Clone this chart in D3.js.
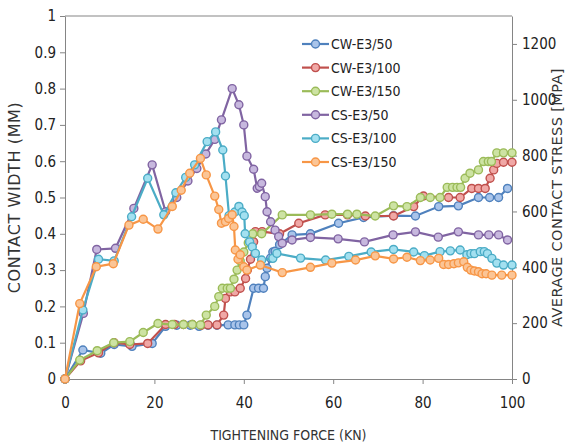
<!DOCTYPE html>
<meta charset="utf-8">
<script src="https://d3js.org/d3.v7.min.js"></script>
<style>
  body { margin: 0; background: #fff; }
</style>
<div id="chart"></div>
<script>

// axis ticks
var forceTicks = [0, 20, 40, 60, 80, 100];
var widthTicks = [0, 0.1, 0.2, 0.3, 0.4, 0.5, 0.6, 0.7, 0.8, 0.9, 1];
var stressTicks = [0, 200, 400, 600, 800, 1000, 1200];

var seriesNames = ["CW-E3/50", "CW-E3/100", "CW-E3/150", "CS-E3/50", "CS-E3/100", "CS-E3/150"];
var seriesColors = ["#4f81bd", "#c0504d", "#9bbb59", "#8064a2", "#4bacc6", "#f79646"];
var markerFills = ["#a9c4ea", "#f0a8a6", "#cde3a3", "#c7b8de", "#a3e0f0", "#fbc596"];

// contact width [force kN, width mm]
var cw50 = [[0,0],[4,0.08],[8,0.071],[11,0.095],[15,0.09],[19.5,0.098],[22.5,0.145],[25,0.148],[28,0.148],
  [30,0.145],[32,0.148],[34,0.148],[36.5,0.149],[38,0.149],[39,0.149],[40,0.149],[40.7,0.176],[42.2,0.25],
  [43.3,0.25],[44.4,0.25],[44.8,0.282],[45.2,0.305],[46,0.333],[46.5,0.35],[47,0.352],[48,0.37],[50.8,0.397],
  [54.9,0.4],[61.2,0.429],[66.8,0.445],[73.5,0.45],[78.4,0.449],[83.6,0.475],[88,0.477],[92.5,0.5],[95,0.5],
  [97,0.5],[99,0.525]];

var cw100 = [[0,0],[3.5,0.05],[7.5,0.072],[11,0.1],[14.5,0.095],[18.5,0.098],[22.5,0.15],[24.5,0.15],[26.5,0.15],
  [28.5,0.15],[30.5,0.148],[32,0.149],[34,0.149],[35.5,0.176],[35.9,0.222],[37,0.24],[38,0.24],[39.2,0.25],
  [40.4,0.277],[40.8,0.3],[41.5,0.33],[42.2,0.378],[42.6,0.406],[44.1,0.406],[48,0.4],[52.3,0.429],[58.2,0.452],
  [63.2,0.452],[67.2,0.449],[73.5,0.449],[78,0.475],[80.2,0.504],[85.8,0.5],[88.4,0.5],[91,0.525],[92.5,0.525],
  [94,0.525],[95.1,0.553],[95.9,0.576],[96.6,0.594],[98.1,0.597],[100,0.597]];

var cw150 = [[0,0],[3.3,0.052],[7.2,0.078],[10.9,0.1],[14.5,0.103],[17.5,0.128],[20.8,0.153],[24,0.15],[26.5,0.15],
  [28.5,0.15],[30.3,0.149],[31.6,0.176],[33.5,0.2],[34.4,0.227],[35.2,0.25],[36.3,0.25],[37,0.25],[37.8,0.275],
  [38.5,0.3],[39.2,0.325],[40,0.35],[41,0.375],[42,0.4],[44,0.4],[48.6,0.452],[54.9,0.452],[59.7,0.454],
  [63.2,0.454],[65.3,0.454],[69.4,0.449],[73.5,0.477],[76.5,0.475],[79.5,0.5],[81.7,0.5],[83.9,0.5],[85.5,0.528],
  [86.7,0.528],[87.7,0.528],[88.5,0.528],[89.5,0.553],[90.6,0.567],[92.5,0.576],[93.6,0.599],[94.7,0.599],
  [95.4,0.599],[96.6,0.623],[98.1,0.623],[100,0.623]];

// average contact stress [force kN, stress MPa]
var cs50 = [[0,0],[4.1,235],[7.1,464],[11.3,468],[15.4,611],[19.5,767],[22.5,599],[25,650],[27.5,709],[29.5,754],
  [31.5,806],[33.5,858],[35,928],[37.4,1040],[38.9,982],[40,910],[40.7,798],[42.2,751],[43,683],[43.5,689],
  [44,701],[44.8,653],[45.2,599],[46,563],[47,533],[47.8,510],[48.6,486],[50.8,498],[54.9,507],[61.1,502],
  [67,491],[73.4,516],[78.4,527],[83.5,508],[88,527],[92.5,516],[94.8,516],[97,516],[99,498]];

var cs100 = [[0,0],[4,247],[7.5,429],[11,423],[14.9,581],[18.5,719],[22.1,588],[24.8,667],[27,722],[29,767],
  [31.8,850],[33.7,885],[35.3,820],[35.9,727],[36.7,585],[38,598],[38.9,618],[39.6,598],[40.1,585],[40.3,520],
  [41.3,491],[41.9,473],[42.6,450],[44,426],[46.5,432],[47.4,450],[52.7,433],[58.3,426],[63.5,439],[68.5,455],
  [73.5,464],[78,455],[80.4,442],[83.9,456],[86.2,459],[88.4,462],[89.9,445],[90.8,449],[91.6,449],[92.9,456],
  [93.8,456],[94.5,449],[95.5,432],[96.6,415],[98.1,408],[100,408]];

var cs150 = [[0,0],[3.3,270],[7,402],[10.8,413],[14.3,551],[17.5,572],[20.8,537],[24,618],[26,676],[27.9,737],
  [30.3,790],[31.6,731],[33.5,655],[34.4,607],[35,558],[35.9,563],[36.6,575],[37.4,588],[37.8,546],[38.1,462],
  [38.7,429],[39.2,445],[40,402],[40.7,390],[43.7,408],[48.6,381],[54.9,400],[59.7,415],[65,426],[69.4,441],
  [73.5,430],[76.5,436],[79.5,424],[81.7,426],[83.6,432],[84.7,410],[85.8,410],[87,413],[88,416],[89.2,420],
  [90,400],[90.8,390],[91.6,387],[92.5,384],[93.3,377],[94.2,377],[95.5,372],[97.7,372],[100,372]];

var seriesData = [cw50, cw100, cw150, cs50, cs100, cs150];
var seriesAxis = ["left", "left", "left", "right", "right", "right"];

var margin = {top: 16, right: 55, bottom: 66, left: 65},
    width = 567 - margin.left - margin.right,
    height = 445 - margin.top - margin.bottom;

var narrow = "'Liberation Sans Narrow', 'DejaVu Sans Condensed', sans-serif";

var svg = d3.select("#chart")
  .append("svg")
    .attr("width", 567)
    .attr("height", 445)
  .append("g")
    .attr("transform", "translate(" + margin.left + "," + margin.top + ")");

var x = d3.scaleLinear().domain([0, 100]).range([0, width]);
var yL = d3.scaleLinear().domain([0, 1]).range([height, 0]);
var yR = d3.scaleLinear().domain([0, 1300]).range([height, 0]);

function styleAxis(g) {
  g.selectAll("path, line").attr("stroke", "#858585");
  g.selectAll("text").style("font-family", narrow).style("font-size", "15px").attr("fill", "#222");
}

svg.append("g")
    .attr("transform", "translate(0," + height + ")")
    .call(d3.axisBottom(x).tickValues(forceTicks).tickSize(5).tickSizeOuter(0).tickPadding(13))
    .call(styleAxis);

svg.append("g")
    .call(d3.axisLeft(yL).tickValues(widthTicks).tickSize(5).tickSizeOuter(0).tickPadding(4)
      .tickFormat(function(d) { return String(+d.toFixed(1)); }))
    .call(styleAxis);

svg.append("g")
    .attr("transform", "translate(" + width + ",0)")
    .call(d3.axisRight(yR).tickValues(stressTicks).tickSize(5).tickSizeOuter(0).tickPadding(5)
      .tickFormat(d3.format("d")))
    .call(styleAxis);

// top border
svg.append("line")
    .attr("x1", 0).attr("x2", width)
    .attr("y1", 0).attr("y2", 0)
    .attr("stroke", "#858585");

// axis titles
svg.append("text")
    .attr("x", width / 2)
    .attr("y", height + 61)
    .attr("text-anchor", "middle")
    .style("font-family", narrow)
    .style("font-size", "14px")
    .attr("fill", "#333")
    .text("TIGHTENING FORCE (KN)");

svg.append("text")
    .attr("transform", "rotate(-90)")
    .attr("x", -height / 2)
    .attr("y", 20 - margin.left)
    .attr("text-anchor", "middle")
    .style("font-family", "'DejaVu Sans', sans-serif")
    .style("font-size", "16px")
    .style("letter-spacing", "0.6px")
    .attr("fill", "#333")
    .text("CONTACT WIDTH (MM)");

svg.append("text")
    .attr("transform", "rotate(-90)")
    .attr("x", -height / 2)
    .attr("y", width + 50)
    .attr("text-anchor", "middle")
    .style("font-family", "'DejaVu Sans', sans-serif")
    .style("font-size", "14.5px")
    .style("letter-spacing", "0.4px")
    .attr("fill", "#333")
    .text("AVERAGE CONTACT STRESS [MPA]");

// series
seriesData.forEach(function(data, i) {
  var yScale = seriesAxis[i] === "left" ? yL : yR;
  var g = svg.append("g");
  g.append("path")
      .datum(data)
      .attr("fill", "none")
      .attr("stroke", seriesColors[i])
      .attr("stroke-width", 2.2)
      .attr("d", d3.line()
        .x(function(d) { return x(d[0]); })
        .y(function(d) { return yScale(d[1]); }));
  g.selectAll("circle")
    .data(data)
    .enter()
    .append("circle")
      .attr("cx", function(d) { return x(d[0]); })
      .attr("cy", function(d) { return yScale(d[1]); })
      .attr("r", 4)
      .attr("fill", markerFills[i])
      .attr("stroke", seriesColors[i])
      .attr("stroke-width", 1.4);
});

// legend
var legend = svg.append("g")
    .attr("transform", "translate(" + (302 - margin.left) + "," + (44 - margin.top) + ")");

seriesNames.forEach(function(name, i) {
  var row = legend.append("g").attr("transform", "translate(0," + (i * 23.6) + ")");
  row.append("line")
      .attr("x1", 0).attr("x2", 27)
      .attr("y1", 0).attr("y2", 0)
      .attr("stroke", seriesColors[i])
      .attr("stroke-width", 2.2);
  row.append("circle")
      .attr("cx", 13.5).attr("cy", 0).attr("r", 4)
      .attr("fill", markerFills[i])
      .attr("stroke", seriesColors[i])
      .attr("stroke-width", 1.4);
  row.append("text")
      .attr("x", 29)
      .attr("y", 0)
      .attr("dy", "0.35em")
      .style("font-family", narrow)
      .style("font-size", "14px")
      .attr("fill", "#222")
      .text(name);
});

</script>
